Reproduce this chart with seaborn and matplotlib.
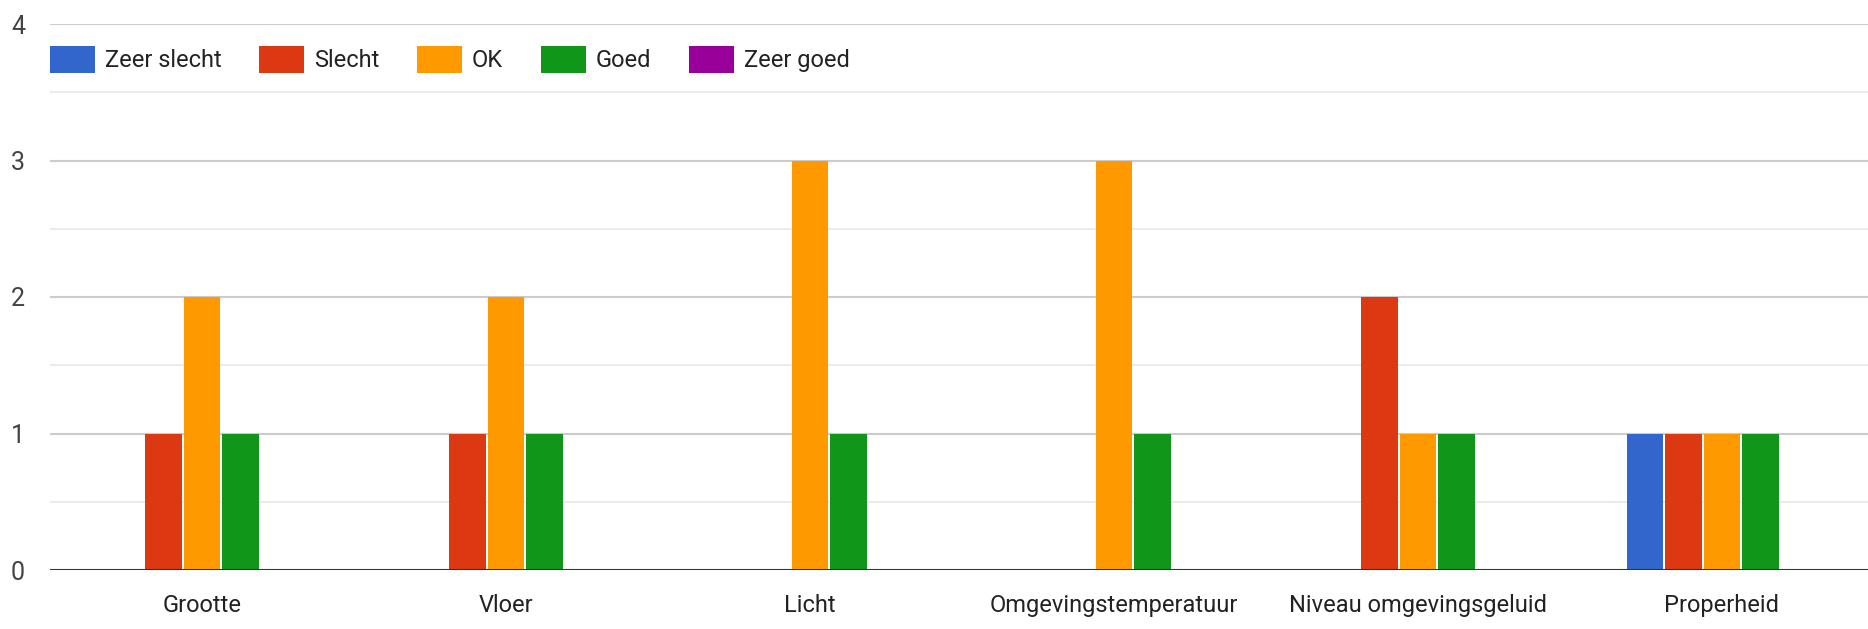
import matplotlib
matplotlib.use("Agg")
import matplotlib.pyplot as plt
from matplotlib.patches import Patch
import seaborn as sns
import pandas as pd

# ---- data ----
categories = ["Grootte", "Vloer", "Licht", "Omgevingstemperatuur",
              "Niveau omgevingsgeluid", "Properheid"]
ratings = ["Zeer slecht", "Slecht", "OK", "Goed", "Zeer goed"]
zeer_slecht = [0, 0, 0, 0, 0, 1]
slecht = [1, 1, 0, 0, 2, 1]
ok = [2, 2, 3, 3, 1, 1]
goed = [1, 1, 1, 1, 1, 1]
zeer_goed = [0, 0, 0, 0, 0, 0]
y_ticks = [0, 1, 2, 3, 4]

series = {"Zeer slecht": zeer_slecht, "Slecht": slecht, "OK": ok,
          "Goed": goed, "Zeer goed": zeer_goed}
rows = []
for r in ratings:
    for c, v in zip(categories, series[r]):
        rows.append({"category": c, "rating": r, "count": v})
df = pd.DataFrame(rows)

colors = ["#3366cc", "#dc3912", "#ff9900", "#109618", "#990099"]
palette = dict(zip(ratings, colors))

sns.set_theme(style="white")
plt.rcParams["font.family"] = ["Roboto", "DejaVu Sans"]

W, H = 1868, 629
fig = plt.figure(figsize=(W / 100, H / 100), dpi=100)
ax = fig.add_axes([50 / W, (H - 570) / H, 1824 / W, 546 / H])

sns.barplot(data=df, x="category", y="count", hue="rating",
            order=categories, hue_order=ratings, palette=palette,
            saturation=1, width=0.633, gap=0.06, linewidth=0, legend=False,
            ax=ax, zorder=3)

ax.set_xlim(-0.5, 5.5)
ax.set_ylim(0, 4)
ax.set_yticks(y_ticks)
ax.set_yticks([0.5, 1.5, 2.5, 3.5], minor=True)
ax.grid(axis="y", which="major", color="#cccccc", linewidth=1.5, zorder=0)
ax.grid(axis="y", which="minor", color="#ebebeb", linewidth=1.5, zorder=0)
ax.grid(axis="x", visible=False)
ax.set_axisbelow(True)
ax.axhline(0, color="#333333", linewidth=2.2, zorder=5)

for s in ax.spines.values():
    s.set_visible(False)

ax.set_xlabel("")
ax.set_ylabel("")
ax.tick_params(axis="y", which="both", length=0, pad=18, labelsize=18,
               labelcolor="#444444")
ax.tick_params(axis="x", length=0, pad=17, labelsize=17, labelcolor="#222222")

fs = 17
handles = [Patch(facecolor=palette[r], edgecolor="none", label=r) for r in ratings]
ax.legend(handles=handles, loc="center left", bbox_to_anchor=(0.0, 0.935),
          ncol=5, frameon=False, fontsize=fs, borderpad=0, borderaxespad=0,
          handlelength=1.9, handleheight=1.36, handletextpad=0.42,
          columnspacing=1.6, labelcolor="#222222")

fig.savefig("out.png", dpi=100)
